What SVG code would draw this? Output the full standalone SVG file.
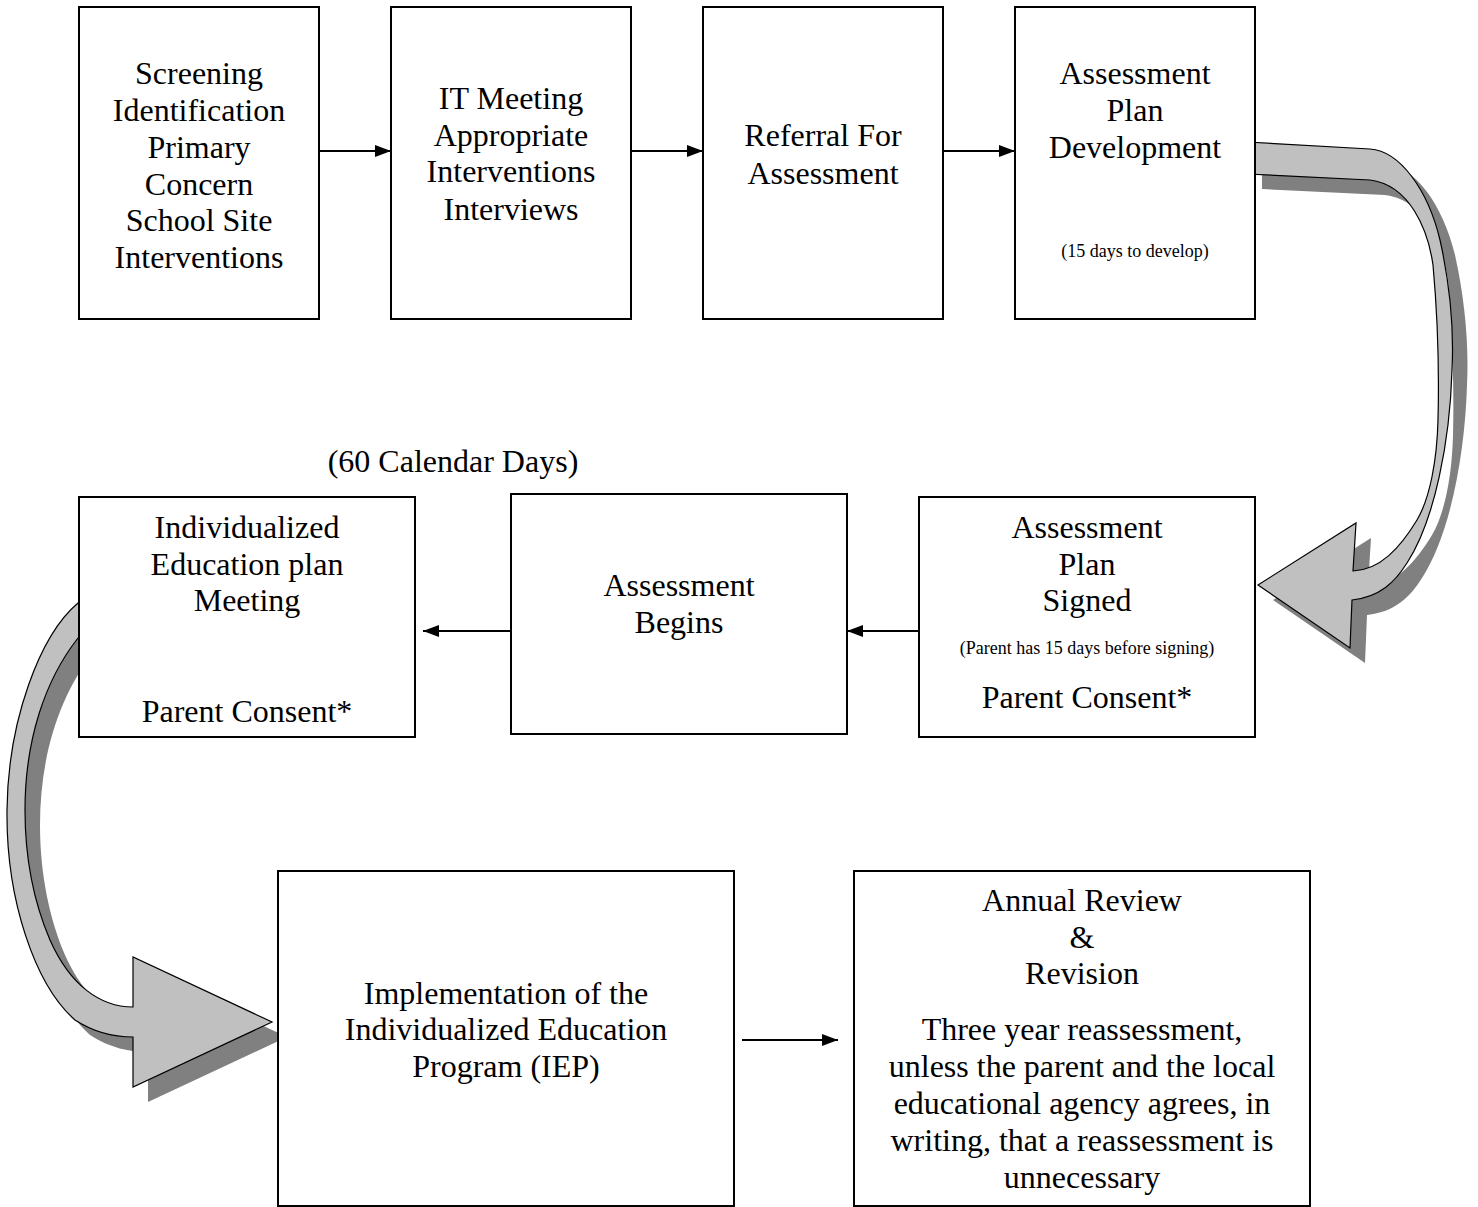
<svg xmlns="http://www.w3.org/2000/svg" width="1478" height="1207" viewBox="0 0 1478 1207">
<style>
.box{fill:#fff;stroke:#000;stroke-width:2}
.t{font-family:"Liberation Serif","Times New Roman",serif;font-size:32px;fill:#000;text-anchor:middle}
.s{font-family:"Liberation Serif","Times New Roman",serif;font-size:18px;fill:#000;text-anchor:middle}
.ln{stroke:#000;stroke-width:2;fill:none;marker-end:url(#ah)}
.band{fill:#c0c0c0;stroke:#000;stroke-width:1.2}
.shadow{fill:#808080}
</style>
<defs>
<marker id="ah" viewBox="0 0 16 12" refX="16" refY="6" markerWidth="16" markerHeight="12" markerUnits="userSpaceOnUse" orient="auto">
<path d="M0,0 L16,6 L0,12 Z" fill="#000"/>
</marker>
<path id="rightCurve" d="M1247,142 L1370,149 C1400,151 1428,190 1440,240 C1450,285 1454,330 1452,370 C1450,440 1435,520 1407,563 C1395,582 1380,597 1352,600 L1350,648 L1258,585 L1356,523 L1353,571 C1380,570 1400,548 1417,520 C1430,498 1437,460 1438,420 C1439,380 1438,320 1433,265 C1428,230 1410,185 1370,180 L1247,174 Z"/>
<path id="leftCurve" d="M95,600 L78,603 C40,635 8,720 7,810 C6,900 35,985 75,1020 C95,1033 115,1037 133,1037 L133,1087 L272,1022 L133,957 L133,1007 C100,1007 70,985 50,940 C35,905 25,860 25,810 C25,740 45,680 78,638 L95,636 Z"/>
</defs>

<g id="connectors">
<use href="#rightCurve" class="shadow" transform="translate(15,15)"/>
<use href="#rightCurve" class="band"/>
<use href="#leftCurve" class="shadow" transform="translate(15,15)"/>
<use href="#leftCurve" class="band"/>
<line class="ln" x1="319" y1="151" x2="391" y2="151"/>
<line class="ln" x1="631" y1="151" x2="703" y2="151"/>
<line class="ln" x1="943" y1="151" x2="1015" y2="151"/>
<line class="ln" x1="919" y1="631" x2="847" y2="631"/>
<line class="ln" x1="519" y1="631" x2="423" y2="631"/>
<line class="ln" x1="742" y1="1040" x2="838" y2="1040"/>
</g>

<g id="n1">
<rect class="box" x="79" y="7" width="240" height="312"/>
<text class="t" x="199" y="84">Screening</text>
<text class="t" x="199" y="121">Identification</text>
<text class="t" x="199" y="158">Primary</text>
<text class="t" x="199" y="195">Concern</text>
<text class="t" x="199" y="231">School Site</text>
<text class="t" x="199" y="268">Interventions</text>
</g>
<g id="n2">
<rect class="box" x="391" y="7" width="240" height="312"/>
<text class="t" x="511" y="109">IT Meeting</text>
<text class="t" x="511" y="146">Appropriate</text>
<text class="t" x="511" y="182">Interventions</text>
<text class="t" x="511" y="220">Interviews</text>
</g>
<g id="n3">
<rect class="box" x="703" y="7" width="240" height="312"/>
<text class="t" x="823" y="146">Referral For</text>
<text class="t" x="823" y="184">Assessment</text>
</g>
<g id="n4">
<rect class="box" x="1015" y="7" width="240" height="312"/>
<text class="t" x="1135" y="84">Assessment</text>
<text class="t" x="1135" y="121">Plan</text>
<text class="t" x="1135" y="158">Development</text>
<text class="s" x="1135" y="257">(15 days to develop)</text>
</g>

<text class="t" x="453" y="472">(60 Calendar Days)</text>

<g id="n5">
<rect class="box" x="79" y="497" width="336" height="240"/>
<text class="t" x="247" y="538">Individualized</text>
<text class="t" x="247" y="575">Education plan</text>
<text class="t" x="247" y="611">Meeting</text>
<text class="t" x="247" y="722">Parent Consent*</text>
</g>
<g id="n6">
<rect class="box" x="511" y="494" width="336" height="240"/>
<text class="t" x="679" y="596">Assessment</text>
<text class="t" x="679" y="633">Begins</text>
</g>
<g id="n7">
<rect class="box" x="919" y="497" width="336" height="240"/>
<text class="t" x="1087" y="538">Assessment</text>
<text class="t" x="1087" y="575">Plan</text>
<text class="t" x="1087" y="611">Signed</text>
<text class="s" x="1087" y="654">(Parent has 15 days before signing)</text>
<text class="t" x="1087" y="708">Parent Consent*</text>
</g>

<g id="n8">
<rect class="box" x="278" y="871" width="456" height="335"/>
<text class="t" x="506" y="1004">Implementation of the</text>
<text class="t" x="506" y="1040">Individualized Education</text>
<text class="t" x="506" y="1077">Program (IEP)</text>
</g>
<g id="n9">
<rect class="box" x="854" y="871" width="456" height="335"/>
<text class="t" x="1082" y="911">Annual Review</text>
<text class="t" x="1082" y="948">&amp;</text>
<text class="t" x="1082" y="984">Revision</text>
<text class="t" x="1082" y="1040">Three year reassessment,</text>
<text class="t" x="1082" y="1077">unless the parent and the local</text>
<text class="t" x="1082" y="1114">educational agency agrees, in</text>
<text class="t" x="1082" y="1151">writing, that a reassessment is</text>
<text class="t" x="1082" y="1188">unnecessary</text>
</g>
</svg>
